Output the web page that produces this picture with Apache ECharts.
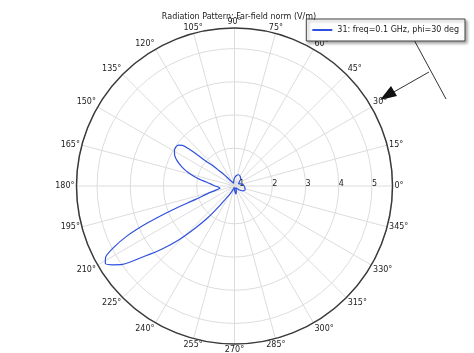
<!DOCTYPE html>
<html><head><meta charset="utf-8">
<script src="https://cdn.jsdelivr.net/npm/echarts@6/dist/echarts.min.js"></script>
<style>html,body{margin:0;padding:0;background:#fff}#c{width:474px;height:353px}</style>
</head><body><div id="c"></div>
<script>
const titleText = 'Radiation Pattern: Far-field norm (V/m)';
const seriesName = '31: freq=0.1 GHz, phi=30 deg';
const radiusMin = 0.86, radiusMax = 5.62;
const radiusTicks = [1, 2, 3, 4, 5];
const angles = [0,10,20,30,40,50,60,70,80,90,100,110,120,128,132,135,137,139,140,141,142,144,147,150,153,156,160,164,168,172,176,180,184,188,192,196,199,201,203,205,207,209,211,213,215,218,221,224,227,230,233,236,240,245,250,260,270,280,290,300,310,320,330,340,350,360];
const values = [1.15,1.12,1.05,1.0,1.05,1.15,1.2,1.22,1.18,1.1,1.0,0.95,1.0,1.1,1.3,1.5,1.75,2.0,2.3,2.65,2.85,2.95,2.98,2.95,2.88,2.76,2.55,2.3,2.02,1.72,1.55,1.44,1.35,1.3,1.42,1.72,2.1,2.85,3.7,4.45,4.95,5.3,5.4,5.22,4.98,4.3,3.75,3.2,2.6,2.1,1.6,1.3,1.15,1.02,0.95,0.9,0.98,1.1,1.02,0.92,0.95,1.05,1.15,1.2,1.18,1.15];

const chart = echarts.init(document.getElementById('c'), null, {renderer:'canvas'});
const font = 'DejaVu Sans';
chart.setOption({
  animation: false,
  title: {text: titleText, left: 234, top: 8, textAlign: 'center',
    textStyle: {fontFamily: font, fontSize: 8, fontWeight: 'normal', color: '#222'}},
  legend: {show: true, right: 9, top: 19, orient: 'vertical', backgroundColor: '#fff',
    borderColor: '#444', borderWidth: 1, borderRadius: 0, padding: [7, 6, 7, 6],
    shadowColor: 'rgba(0,0,0,0.35)', shadowBlur: 3, shadowOffsetX: 2, shadowOffsetY: 2,
    itemWidth: 20, itemHeight: 2, icon: 'rect',
    textStyle: {fontFamily: font, fontSize: 8, color: '#222'}, data: [seriesName]},
  polar: {center: [234.5, 186], radius: 158},
  angleAxis: {type: 'value', min: 0, max: 360, interval: 15, startAngle: 0, clockwise: false,
    axisLine: {lineStyle: {color: '#3a3a3a', width: 1.5}},
    axisTick: {show: false},
    axisLabel: {margin: 2, fontFamily: font, fontSize: 8, color: '#222', formatter: v => v === 360 ? '' : v + '°'},
    splitLine: {lineStyle: {color: '#dcdcdc', width: 1}}},
  radiusAxis: {type: 'value', min: radiusMin, max: radiusMax, splitNumber: 5,
    axisLine: {show: false}, axisTick: {show: false},
    axisLabel: {margin: 2, fontFamily: font, fontSize: 8, color: '#222', verticalAlign: 'middle', align: 'left',
      formatter: v => radiusTicks.indexOf(Math.round(v*1000)/1000) >= 0 ? String(Math.round(v)) : ''},
    splitLine: {lineStyle: {color: '#dcdcdc', width: 1}}},
  series: [{name: seriesName, type: 'line', coordinateSystem: 'polar', showSymbol: false, smooth: 0.25,
    lineStyle: {color: '#2f50de', width: 1.2}, itemStyle: {color: '#2f50de'},
    data: angles.map((a, i) => [values[i], a])}],
  graphic: [
    {type: 'line', shape: {x1: 413, y1: 38, x2: 446, y2: 99}, style: {stroke: '#333', lineWidth: 1}},
    {type: 'line', shape: {x1: 429, y1: 72, x2: 392, y2: 93}, style: {stroke: '#333', lineWidth: 1}},
    {type: 'polygon', shape: {points: [[380, 100], [391, 86], [397, 96]]}, style: {fill: '#111'}}
  ]
});
</script></body></html>
